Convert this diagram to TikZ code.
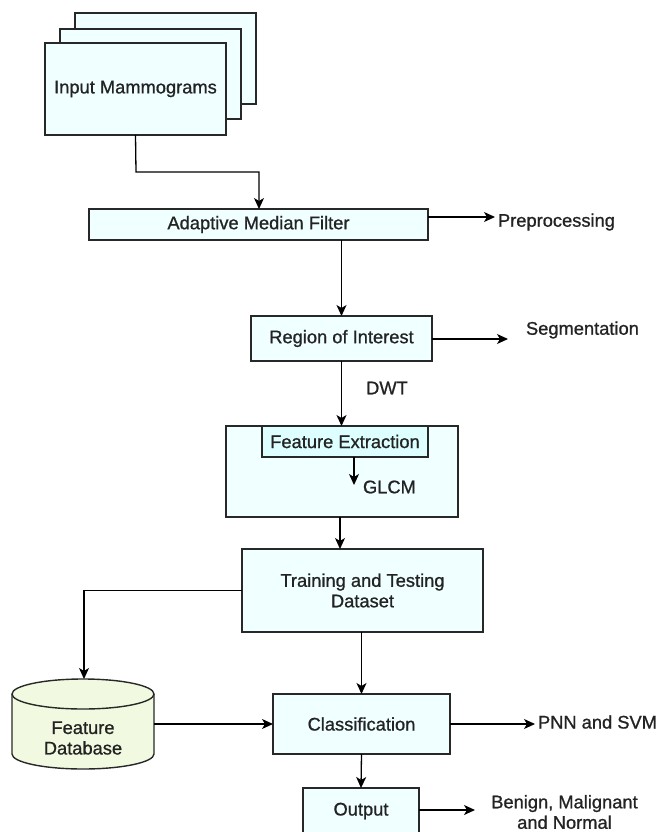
\documentclass[tikz,border=0pt]{standalone}
\usepackage{fontspec}
\setmainfont[FakeBold=0.9]{Liberation Sans}
\usetikzlibrary{arrows.meta,calc}
\definecolor{boxfill}{RGB}{240,255,255}
\definecolor{innerfill}{RGB}{222,255,255}
\definecolor{dbfill}{RGB}{241,250,224}
\definecolor{edge}{RGB}{40,40,40}
\definecolor{txt}{RGB}{35,35,35}
\begin{document}
\begin{tikzpicture}[x=1pt,y=-1pt,
  every node/.style={font=\fontsize{18.3}{20.5}\selectfont, text=txt, inner sep=0pt, outer sep=0pt},
  procbox/.style={draw=edge, fill=boxfill, line width=1.4pt, rectangle, align=center},
  sidelabel/.style={anchor=west},
  arr/.style={draw=black, line width=1.3pt, -{Stealth[length=11pt,width=10pt,inset=3pt]}},
]
\useasboundingbox (0,0) rectangle (658,832);
\fill[white] (0,0) rectangle (658,832);

% stacked input boxes
\node[procbox, minimum width=181pt, minimum height=91pt] (stackc) at (165.5,58.5) {};
\node[procbox, minimum width=181pt, minimum height=90pt] (stackb) at (150.5,74) {};
\node[procbox, minimum width=181pt, minimum height=92pt] (inp) at (135.5,89) {Input Mammograms};

% adaptive median filter
\node[procbox, minimum width=339pt, minimum height=31pt] (amf) at (258.5,224.5) {Adaptive Median Filter};
\coordinate (preA) at (495,217);
\node[sidelabel] (pre) at (498,222) {Preprocessing};

% region of interest
\node[procbox, minimum width=181pt, minimum height=45pt] (roi) at (341.5,338.5) {Region of Interest};
\coordinate (segA) at (508,339);
\node[sidelabel] (seg) at (526,330) {Segmentation};
\node (dwt) at (387,388) {DWT};

% feature extraction
\node[procbox, minimum width=232pt, minimum height=91pt] (fe) at (342,471.5) {};
\node[procbox, fill=innerfill, minimum width=166pt, minimum height=31pt] (fet) at (345,441.5) {Feature Extraction};
\coordinate (glA) at (354,485);
\node[sidelabel] (glcm) at (363,487) {GLCM};

% training and testing
\node[procbox, minimum width=241pt, minimum height=83pt] (train) at (362.5,590.5) {Training and Testing\\Dataset};

% feature database (cylinder)
\node[minimum width=142pt, minimum height=90pt] (db) at (83,724) {};
\path[draw=edge, fill=dbfill, line width=1.4pt]
  (12,694) -- (12,754) arc[start angle=180, end angle=360, x radius=71pt, y radius=15pt]
  -- (154,694) arc[start angle=0, end angle=180, x radius=71pt, y radius=15pt] -- cycle;
\draw[edge, line width=1.4pt] (12,694) arc[start angle=180, end angle=360, x radius=71pt, y radius=15pt];
\node[align=center] (dbt) at (83,738) {Feature\\Database};

% classification
\node[procbox, minimum width=177pt, minimum height=60pt] (cls) at (361.5,724) {Classification};
\coordinate (pnnA) at (535,724);
\node[sidelabel] (pnn) at (538,722) {PNN and SVM};

% output
\node[procbox, minimum width=116pt, minimum height=48pt] (out) at (361,812) {};
\node (outt) at (361,811) {Output};
\coordinate (benA) at (475,810);
\node[align=center] (ben) at (564.5,812) {Benign, Malignant\\and Normal};

% connectors
\draw[arr] (inp.south) -- (136,172) -| (amf.north -| 259,0);
\draw[arr] (amf.east |- preA) -- (preA);
\draw[arr] (amf.south -| roi.north) -- (roi.north);
\draw[arr] (roi.east |- segA) -- (segA);
\draw[arr] (roi.south) -- (roi.south |- fe.north);
\draw[arr] (fet.south -| glA) -- (glA);
\draw[arr] (fe.south -| 340,0) -- (train.north -| 340,0);
\draw[arr] (train.west) -| (db.north -| 84,0);
\draw[arr] (train.south -| cls.north) -- (cls.north);
\draw[arr] (db.east) -- (cls.west);
\draw[arr] (cls.east) -- (pnnA);
\draw[arr] (cls.south) -- (out.north);
\draw[arr] (out.east |- benA) -- (benA);
\end{tikzpicture}
\end{document}
